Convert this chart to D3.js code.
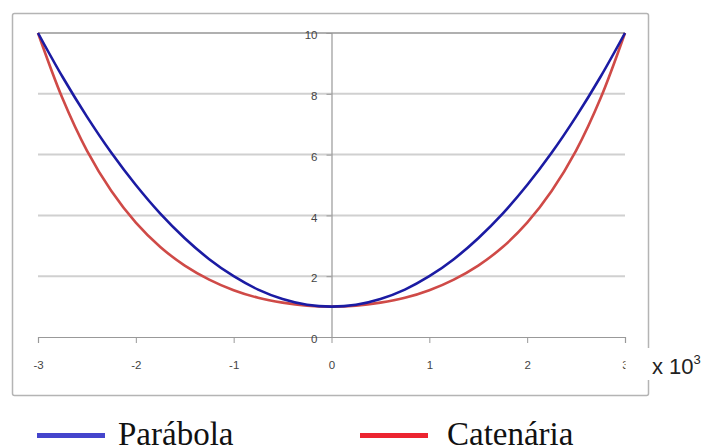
<!DOCTYPE html>
<html>
<head>
<meta charset="utf-8">
<script src="https://cdn.jsdelivr.net/npm/d3@7"></script>
<style>
  body { margin: 0; background: #fff; }
  svg { display: block; }
</style>
</head>
<body>
<div id="chart"></div>
<script>
// values (x in thousands)
const xValues = [-3, -2.75, -2.5, -2.25, -2, -1.75, -1.5, -1.25, -1, -0.75, -0.5, -0.25, 0,
                 0.25, 0.5, 0.75, 1, 1.25, 1.5, 1.75, 2, 2.25, 2.5, 2.75, 3];
const parabola = [10, 8.56, 7.25, 6.06, 5, 4.06, 3.25, 2.56, 2, 1.56, 1.25, 1.06, 1,
                  1.06, 1.25, 1.56, 2, 2.56, 3.25, 4.06, 5, 6.06, 7.25, 8.56, 10];
const catenaria = [10, 7.85, 6.13, 4.8, 3.76, 2.96, 2.35, 1.89, 1.54, 1.29, 1.13, 1.03, 1,
                   1.03, 1.13, 1.29, 1.54, 1.89, 2.35, 2.96, 3.76, 4.8, 6.13, 7.85, 10];
const xTicks = [-3, -2, -1, 0, 1, 2, 3];
const yTicks = [0, 2, 4, 6, 8, 10];
const legendLabels = ["Parábola", "Catenária"];

const width = 713, height = 445;
const svg = d3.select("#chart").append("svg")
    .attr("width", width)
    .attr("height", height);

const x = d3.scaleLinear().domain([-3, 3]).range([38, 625]);
const y = d3.scaleLinear().domain([0, 10]).range([337, 33]);

// outer frame
svg.append("rect")
    .attr("x", 12.5).attr("y", 13.5)
    .attr("width", 636).attr("height", 382)
    .attr("rx", 2)
    .attr("fill", "none")
    .attr("stroke", "#b4b4b4")
    .attr("stroke-width", 1.5);

// gridlines
svg.selectAll("line.grid")
    .data(yTicks.filter(d => d > 0))
    .enter()
    .append("line")
    .attr("class", "grid")
    .attr("x1", x(-3)).attr("x2", x(3))
    .attr("y1", d => y(d)).attr("y2", d => y(d))
    .attr("stroke", d => d === 10 ? "#b0b0b0" : "#d0d0d0")
    .attr("stroke-width", 2);

// x axis at y = 0
const xAxis = svg.append("g")
    .attr("transform", `translate(0,${y(0)})`)
    .call(d3.axisBottom(x).tickValues(xTicks).tickSize(6).tickPadding(18).tickFormat(d => String(d)));
xAxis.select(".domain").attr("stroke", "#999").attr("stroke-width", 1.2);
xAxis.selectAll(".tick line").attr("stroke", "#999");
xAxis.selectAll("text")
    .attr("font-family", "Liberation Sans, Arial, sans-serif")
    .attr("font-size", 11.5)
    .attr("fill", "#444");

// y axis at x = 0
const yAxis = svg.append("g")
    .attr("transform", `translate(${x(0)},0)`)
    .call(d3.axisLeft(y).tickValues(yTicks).tickSize(5).tickPadding(9).tickFormat(d => String(d)));
yAxis.select(".domain").attr("stroke", "#999").attr("stroke-width", 1.2);
yAxis.selectAll(".tick line").attr("stroke", "#999");
yAxis.selectAll("text")
    .attr("dy", "0.5em")
    .attr("font-family", "Liberation Sans, Arial, sans-serif")
    .attr("font-size", 11.5)
    .attr("fill", "#444");

// curves
const line = d3.line()
    .x((d, i) => x(xValues[i]))
    .y(d => y(d))
    .curve(d3.curveCatmullRom);

svg.append("path")
    .datum(catenaria)
    .attr("d", line)
    .attr("fill", "none")
    .attr("stroke", "#cf4a47")
    .attr("stroke-width", 2.6);

svg.append("path")
    .datum(parabola)
    .attr("d", line)
    .attr("fill", "none")
    .attr("stroke", "#1b1ba3")
    .attr("stroke-width", 2.6);

// "x 10^3" label box, covering part of the frame and the last tick label
svg.append("rect")
    .attr("x", 625.5).attr("y", 348)
    .attr("width", 90).attr("height", 32)
    .attr("fill", "#fff");

const unit = svg.append("text")
    .attr("x", 652).attr("y", 374)
    .attr("font-family", "Liberation Sans, Arial, sans-serif")
    .attr("font-size", 22)
    .attr("fill", "#222");
unit.append("tspan").text("x 10");
unit.append("tspan").attr("dy", -10).attr("font-size", 13).text("3");

// legend
const legendColors = ["#4545cc", "#ec2430"];
const legendX = [37, 360];
legendLabels.forEach((label, i) => {
    svg.append("line")
        .attr("x1", legendX[i]).attr("x2", legendX[i] + 68)
        .attr("y1", 435.5).attr("y2", 435.5)
        .attr("stroke", legendColors[i])
        .attr("stroke-width", 5);
    svg.append("text")
        .attr("x", legendX[i] + (i === 0 ? 81 : 87))
        .attr("y", 445)
        .attr("font-family", "Liberation Serif, Times New Roman, serif")
        .attr("font-size", 33)
        .attr("fill", "#111")
        .text(label);
});
</script>
</body>
</html>
